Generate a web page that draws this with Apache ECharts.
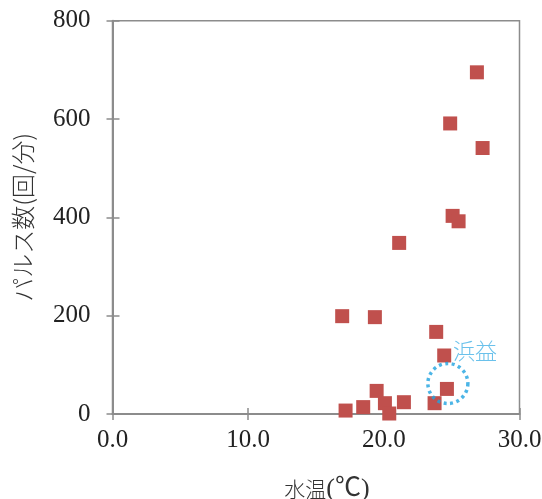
<!DOCTYPE html>
<html>
<head>
<meta charset="utf-8">
<script src="https://cdn.jsdelivr.net/npm/echarts@6/dist/echarts.min.js"></script>
<style>html,body{margin:0;padding:0;background:#fff}#c{width:542px;height:499px}</style>
</head>
<body>
<div id="c"></div>
<script>
var xTitle = '水温(℃)';
var yTitle = 'パルス数(回/分)';
var waterTemp = [26.86, 24.89, 27.28, 25.07, 25.51, 21.13, 16.93, 19.34, 23.86, 24.45, 24.65, 19.47, 23.74, 21.48, 20.08, 18.48, 17.18, 20.40];
var pulses    = [695,   591,   541,   403,   392,   348,   199,   197,   167,   119,   51,    47,    22,    24,    22,    14,    7,     1];
var noteLabel = '浜益';
var notePoint = [24.72, 62];

var points = waterTemp.map(function (t, i) { return [t, pulses[i]]; });
var gray = '#8c8c8c';
var serif = '"Liberation Serif", "Times New Roman", serif';

var chart = echarts.init(document.getElementById('c'));
chart.setOption({
  animation: false,
  grid: { left: 112.5, right: 22.5, top: 20.7, bottom: 85, outerBoundsMode: 'none', containLabel: false,
    show: true, borderColor: gray, borderWidth: 1.5, backgroundColor: 'transparent' },
  xAxis: [{
    type: 'value', min: 0, max: 30, interval: 10,
    axisLine: { show: true, onZero: false, lineStyle: { color: gray, width: 2 } },
    axisTick: { show: true, length: 6, lineStyle: { color: gray, width: 1.5 } },
    splitLine: { show: false },
    axisLabel: { margin: 14, color: '#222', fontFamily: serif, fontSize: 25, formatter: function (v) { return v.toFixed(1); } },
    name: '{a|水温}{b|(℃)}',
    nameLocation: 'middle', nameGap: 62,
    nameTextStyle: { padding: [0, 0, 0, 22], rich: {
      a: { fontFamily: '"Noto Sans CJK JP"', fontWeight: 300, fontSize: 21, color: '#333' },
      b: { fontFamily: serif + ', "Noto Sans CJK JP"', fontSize: 26, color: '#333' }
    } }
  }, {
    type: 'value', min: 0, max: 30, interval: 10, position: 'bottom', gridIndex: 0,
    axisLine: { show: false },
    axisTick: { show: true, inside: true, length: 6, lineStyle: { color: gray, width: 1.5 } },
    axisLabel: { show: false }, splitLine: { show: false }
  }],
  yAxis: [{
    type: 'value', min: 0, max: 800, interval: 200,
    axisLine: { show: true, onZero: false, lineStyle: { color: gray, width: 2 } },
    axisTick: { show: true, length: 6, lineStyle: { color: gray, width: 1.5 } },
    splitLine: { show: false },
    axisLabel: { margin: 22, color: '#222', fontFamily: serif, fontSize: 25 },
    name: yTitle, nameLocation: 'middle', nameGap: 78,
    nameTextStyle: { fontFamily: '"Noto Sans CJK JP"', fontWeight: 300, fontSize: 24, color: '#333' }
  }, {
    type: 'value', min: 0, max: 800, interval: 200, position: 'left', gridIndex: 0,
    axisLine: { show: false },
    axisTick: { show: true, inside: true, length: 7, lineStyle: { color: gray, width: 1.5 } },
    axisLabel: { show: false }, splitLine: { show: false }
  }],
  series: [{
    type: 'scatter', symbol: 'rect', symbolSize: 14,
    itemStyle: { color: '#C0504D', opacity: 1 },
    data: points
  }, {
    type: 'scatter', symbol: 'circle', symbolSize: 40, z: 3,
    itemStyle: { color: 'rgba(0,0,0,0)', borderColor: '#1FA3E0', borderWidth: 3.5, borderType: [3, 3.5] },
    label: { show: true, formatter: noteLabel, position: [27, -11], align: 'left', verticalAlign: 'middle',
      fontFamily: '"Noto Sans CJK JP"', fontWeight: 300, fontSize: 22, color: '#45B2E6' },
    data: [notePoint]
  }]
});
</script>
</body>
</html>
